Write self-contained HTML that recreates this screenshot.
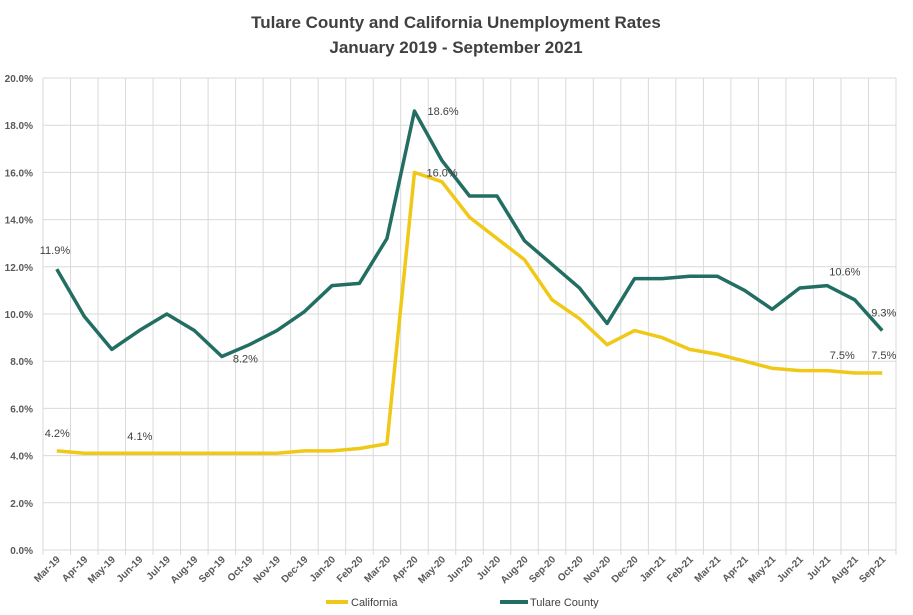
<!DOCTYPE html>
<html><head><meta charset="utf-8"><style>
body{margin:0;background:#fff;width:913px;height:610px;overflow:hidden;font-family:"Liberation Sans",sans-serif}
</style></head><body>
<svg id="chart" width="913" height="610" xmlns="http://www.w3.org/2000/svg">
<text x="456" y="28" text-anchor="middle" font-size="17" font-weight="bold" fill="#404040">Tulare County and California Unemployment Rates</text>
<text x="456" y="53" text-anchor="middle" font-size="17" font-weight="bold" fill="#404040">January 2019 - September 2021</text>
<g id="grid"></g><g id="axes"></g><g id="series"></g><g id="labels"></g>
<g>
<line x1="326" y1="602" x2="348" y2="602" stroke="#F0C818" stroke-width="4"/>
<text x="351" y="606" font-size="11" fill="#404040">California</text>
<line x1="500" y1="602" x2="528" y2="602" stroke="#236E63" stroke-width="4"/>
<text x="530" y="606" font-size="11" fill="#404040">Tulare County</text>
</g>
</svg>
<script>
const categories=["Mar-19","Apr-19","May-19","Jun-19","Jul-19","Aug-19","Sep-19","Oct-19","Nov-19","Dec-19","Jan-20","Feb-20","Mar-20","Apr-20","May-20","Jun-20","Jul-20","Aug-20","Sep-20","Oct-20","Nov-20","Dec-20","Jan-21","Feb-21","Mar-21","Apr-21","May-21","Jun-21","Jul-21","Aug-21","Sep-21"];
const tulare=[11.9,9.9,8.5,9.3,10.0,9.3,8.2,8.7,9.3,10.1,11.2,11.3,13.2,18.6,16.5,15.0,15.0,13.1,12.1,11.1,9.6,11.5,11.5,11.6,11.6,11.0,10.2,11.1,11.2,10.6,9.3];
const california=[4.2,4.1,4.1,4.1,4.1,4.1,4.1,4.1,4.1,4.2,4.2,4.3,4.5,16.0,15.6,14.1,13.2,12.3,10.6,9.8,8.7,9.3,9.0,8.5,8.3,8.0,7.7,7.6,7.6,7.5,7.5];
const yTicks=[0,2,4,6,8,10,12,14,16,18,20];
const tulareLabels=[[0,"11.9%",-17,-15],[6,"8.2%",11,6],[13,"18.6%",13,4],[28,"10.6%",2,-10],[30,"9.3%",-11,-14]];
const caLabels=[[0,"4.2%",-12,-14],[3,"4.1%",-12,-13],[13,"16.0%",12,4],[29,"7.5%",-25,-14],[30,"7.5%",-11,-14]];
const L=43,R=896,T=78,B=550,NS="http://www.w3.org/2000/svg";
const bw=(R-L)/categories.length;
const x=i=>L+bw*(i+0.5);
const y=v=>B-(v/20)*(B-T);
function mk(tag,attrs,parent){const e=document.createElementNS(NS,tag);for(const k in attrs)e.setAttribute(k,attrs[k]);parent.appendChild(e);return e;}
const grid=document.getElementById('grid'),axes=document.getElementById('axes'),ser=document.getElementById('series'),lab=document.getElementById('labels');
yTicks.forEach(t=>{
  const l=mk('line',{x1:L,x2:R,y1:y(t),y2:y(t),stroke:'#d9d9d9','stroke-width':1},grid);
  
  
  const tx=mk('text',{x:L-10,y:y(t)+4,'text-anchor':'end','font-size':10,'font-weight':'bold',fill:'#595959'},axes);
  tx.textContent=t.toFixed(1)+'%';
  
  
});
for(let i=0;i<=categories.length;i++){
  const gx=L+bw*i;
  const l=mk('line',{x1:gx,x2:gx,y1:T,y2:B+5,stroke:'#d9d9d9','stroke-width':1},grid);
  
  
}
categories.forEach((c,i)=>{
  const tx=mk('text',{x:x(i)+4,y:B+10,'text-anchor':'end','font-size':10,'font-weight':'bold',fill:'#595959',transform:`rotate(-45 ${x(i)+4} ${B+10})`},axes);
  tx.textContent=c;
  
  
});
function line(data,color,name){
  const p=mk('polyline',{points:data.map((v,i)=>x(i)+','+y(v)).join(' '),fill:'none',stroke:color,'stroke-width':3.5,'stroke-linejoin':'round'},ser);
  
  
}
line(california,'#F0C818','california-line');
line(tulare,'#236E63','tulare-line');
function labels(arr,data,name){
  arr.forEach(([i,t,dx,dy])=>{
    const tx=mk('text',{x:x(i)+dx,y:y(data[i])+dy,'text-anchor':'start','font-size':11,fill:'#404040'},lab);
    tx.textContent=t;
    
    
  });
}
labels(tulareLabels,tulare,'tulare-data-label');
labels(caLabels,california,'california-data-label');
</script>
</body></html>
